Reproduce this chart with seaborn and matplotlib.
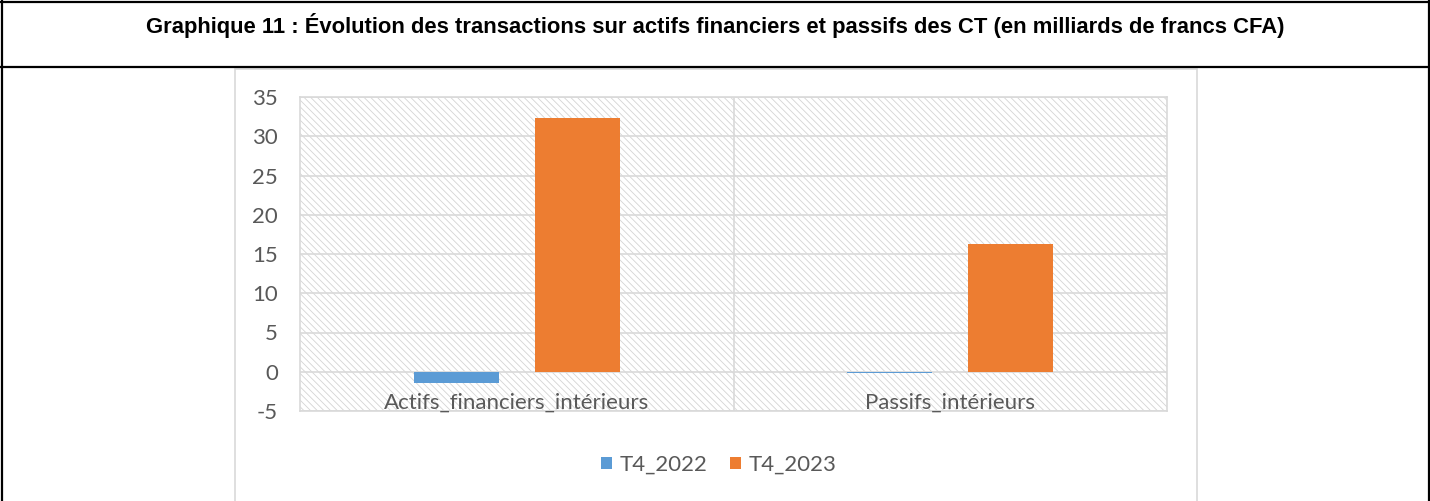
import matplotlib
matplotlib.use("Agg")
import matplotlib.pyplot as plt
import seaborn as sns
import pandas as pd
from matplotlib.patches import Rectangle
from matplotlib.lines import Line2D

categories = ["Actifs_financiers_intérieurs", "Passifs_intérieurs"]
series_names = ["T4_2022", "T4_2023"]
values_2022 = [-1.4, -0.2]
values_2023 = [32.3, 16.3]
yticks = [-5, 0, 5, 10, 15, 20, 25, 30, 35]
title = "Graphique 11 : Évolution des transactions sur actifs financiers et passifs des CT (en milliards de francs CFA)"

df = pd.DataFrame({
    "categorie": categories * 2,
    "periode": [series_names[0]] * 2 + [series_names[1]] * 2,
    "valeur": values_2022 + values_2023,
})

sns.set_theme(style="white")
plt.rcParams["font.family"] = ["Lato", "DejaVu Sans"]
plt.rcParams["hatch.linewidth"] = 0.6
plt.rcParams["axes.unicode_minus"] = False

W, H = 1430, 501
fig = plt.figure(figsize=(W / 100, H / 100), dpi=100)
fig.patch.set_facecolor("white")

def fx(x): return x / W
def fy(y): return 1 - y / H

# outer table frame
for (x0, y0, x1, y1) in [(0, 1.5, W, 1.5), (0, 67, W, 67), (1.5, 0, 1.5, H), (W - 1.5, 0, W - 1.5, H)]:
    fig.add_artist(Line2D([fx(x0), fx(x1)], [fy(y0), fy(y1)], color="black", lw=1.6))
# inner chart box
fig.add_artist(Rectangle((fx(235), fy(H + 5)), fx(1197) - fx(235), fy(69) - fy(H + 5),
                         fill=False, edgecolor="#D9D9D9", lw=1.2))

fig.text(0.5, fy(25), title, ha="center", va="center", fontsize=15.8, fontweight="bold",
         family=["Liberation Sans Narrow", "Liberation Sans", "DejaVu Sans"], color="black")

ax = fig.add_axes([fx(300), fy(411), fx(1167) - fx(300), fy(97) - fy(411)])
ax.set_facecolor("white")
ax.add_patch(Rectangle((0, 0), 1, 1, transform=ax.transAxes, facecolor="white",
                       edgecolor="#D4D4D4", hatch="\\" * 5, lw=0, zorder=0))

palette = {"T4_2022": "#5B9BD5", "T4_2023": "#ED7D31"}
sns.barplot(data=df, x="categorie", y="valeur", hue="periode", palette=palette,
            width=0.56, gap=0.3, ax=ax, zorder=3, saturation=1, legend=True, linewidth=0)

ax.set_ylim(-5, 35)
ax.set_yticks(yticks)
ax.set_xlim(-0.5, 1.5)
ax.yaxis.grid(True, color="#D9D9D9", lw=1.2, zorder=1)
ax.set_axisbelow(False)
for gl in ax.get_ygridlines():
    gl.set_zorder(1)
ax.axvline(0.5, color="#D9D9D9", lw=1.2, zorder=1)
for s in ax.spines.values():
    s.set_color("#D9D9D9")
    s.set_linewidth(1.2)
ax.set_xlabel("")
ax.set_ylabel("")
ax.tick_params(axis="y", length=0, labelsize=16, labelcolor="#595959", pad=16)
ax.tick_params(axis="x", length=0, labelsize=16, labelcolor="#595959", pad=-13)

handles, labels = ax.get_legend_handles_labels()
ax.legend(handles, labels, loc="center", bbox_to_anchor=(fx(719), fy(465)),
          bbox_transform=fig.transFigure, ncol=2, frameon=False, fontsize=16,
          handlelength=0.5, handleheight=0.5, handletextpad=0.35, columnspacing=1.0,
          labelcolor="#595959")

fig.savefig("out.png", dpi=100, facecolor="white")
